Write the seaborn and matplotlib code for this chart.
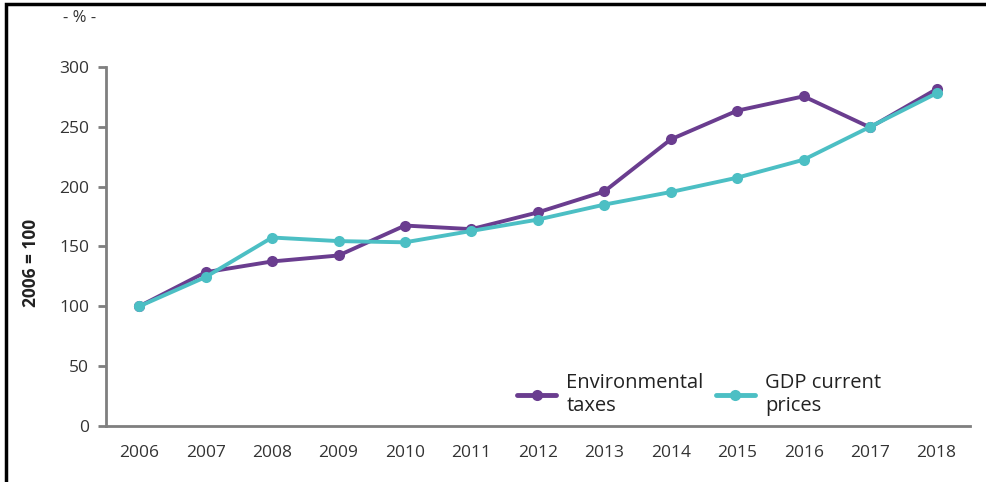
import matplotlib
matplotlib.use("Agg")
import matplotlib.pyplot as plt
import seaborn as sns
import pandas as pd
from matplotlib.patches import Rectangle

years = ["2006", "2007", "2008", "2009", "2010", "2011", "2012",
         "2013", "2014", "2015", "2016", "2017", "2018"]
env_taxes = [100, 128.5, 137.5, 142.5, 167.5, 164.5, 178.5,
             196, 239.5, 263.5, 275.5, 249.5, 281.5]
gdp_current = [100, 124.5, 157.5, 154.5, 153.5, 163, 172.5,
               185, 195.5, 207.5, 222.5, 250, 278]
series_names = ["Environmental\ntaxes", "GDP current\nprices"]
y_ticks = [0, 50, 100, 150, 200, 250, 300]

df = pd.DataFrame({
    "year": years * 2,
    "value": env_taxes + gdp_current,
    "series": [series_names[0]] * len(years) + [series_names[1]] * len(years),
})

sns.set_theme(style="white")
plt.rcParams["font.family"] = ["Open Sans", "DejaVu Sans"]

text_col = "#333333"
axis_col = "#7f7f7f"
palette = {series_names[0]: "#6a3d8f", series_names[1]: "#4cbfc4"}

fig = plt.figure(figsize=(9.86, 4.82), dpi=100)
ax = fig.add_axes([0.1075, 0.1162, 0.876, 0.7448])

sns.lineplot(data=df, x="year", y="value", hue="series", palette=palette,
             marker="o", markersize=8, markeredgewidth=0, linewidth=2.8,
             sort=False, ax=ax)

ax.set_xlim(-0.5, len(years) - 0.5)
ax.set_ylim(0, 300)
ax.set_yticks(y_ticks)
ax.set_xlabel("")
ax.set_ylabel("2006 = 100", fontsize=12.5, fontweight="bold", color="#222222")
ax.yaxis.set_label_coords(-0.076, 0.455)

for side in ["top", "right"]:
    ax.spines[side].set_visible(False)
for side in ["left", "bottom"]:
    ax.spines[side].set_color(axis_col)
    ax.spines[side].set_linewidth(2)

ax.tick_params(axis="y", left=True, length=6, width=2, color=axis_col,
               labelsize=12.5, labelcolor=text_col, pad=6)
ax.tick_params(axis="x", bottom=False, labelsize=12.5, labelcolor=text_col, pad=8)

leg = ax.legend(loc="lower left", bbox_to_anchor=(0.455, -0.024), ncol=2, frameon=False,
                fontsize=14.5, handlelength=1.95, columnspacing=0.6, handletextpad=0.5,
                labelspacing=0.3, labelcolor="#222222")
for h in leg.legend_handles:
    h.set_linewidth(3.5)

fig.text(0.081, 0.962, "- % -", fontsize=12, color=text_col, ha="center", va="center")

# page frame along the top and left edges
fig.patches.append(Rectangle((0.0065, -0.1), 1.2, 1.092, transform=fig.transFigure,
                             fill=False, edgecolor="black", linewidth=2.5))

fig.savefig("out.png", dpi=100)
